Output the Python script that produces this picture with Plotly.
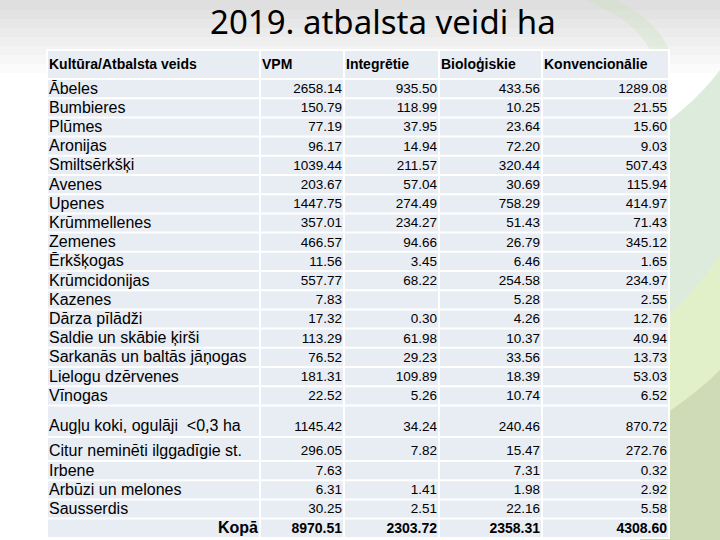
import plotly.graph_objects as go

W, H = 720, 540

title = "2019. atbalsta veidi ha"
header = ["Kultūra/Atbalsta veids", "VPM", "Integrētie", "Bioloģiskie", "Konvencionālie"]

crops = [
    "Ābeles", "Bumbieres", "Plūmes", "Aronijas", "Smiltsērkšķi", "Avenes", "Upenes",
    "Krūmmellenes", "Zemenes", "Ērkšķogas", "Krūmcidonijas", "Kazenes", "Dārza pīlādži",
    "Saldie un skābie ķirši", "Sarkanās un baltās jāņogas", "Lielogu dzērvenes", "Vīnogas",
    "Augļu koki, ogulāji  <0,3 ha",
    "Citur neminēti ilggadīgie st.", "Irbene", "Arbūzi un melones", "Sausserdis",
]
vpm = [2658.14, 150.79, 77.19, 96.17, 1039.44, 203.67, 1447.75, 357.01, 466.57, 11.56,
       557.77, 7.83, 17.32, 113.29, 76.52, 181.31, 22.52, 1145.42, 296.05, 7.63, 6.31, 30.25]
integretie = [935.50, 118.99, 37.95, 14.94, 211.57, 57.04, 274.49, 234.27, 94.66, 3.45,
              68.22, None, 0.30, 61.98, 29.23, 109.89, 5.26, 34.24, 7.82, None, 1.41, 2.51]
biologiskie = [433.56, 10.25, 23.64, 72.20, 320.44, 30.69, 758.29, 51.43, 26.79, 6.46,
               254.58, 5.28, 4.26, 10.37, 33.56, 18.39, 10.74, 240.46, 15.47, 7.31, 1.98, 22.16]
konvencionalie = [1289.08, 21.55, 15.60, 9.03, 507.43, 115.94, 414.97, 71.43, 345.12, 1.65,
                  234.97, 2.55, 12.76, 40.94, 13.73, 53.03, 6.52, 870.72, 272.76, 0.32, 2.92, 5.58]
total_label = "Kopā"
totals = [8970.51, 2303.72, 2358.31, 4308.60]

series = [vpm, integretie, biologiskie, konvencionalie]

# table geometry (pixels)
cell_bg = '#e8ecf3'
font_tbl = 'Liberation Sans, Arial'
edges = [47, 260, 344, 439, 542, 669]
head_top, head_h = 50, 29
row_h = [19.2] * 17 + [31.6, 24.0] + [19.2] * 3 + [19.5]   # last one = Kopā row


def fmt(v):
    return '' if v is None else f'{v:.2f}'


tops = []
t = head_top + head_h
for h in row_h:
    tops.append(t)
    t += h
# text sits a bit lower in the taller rows
text_y = [tp + h / 2 + 1 + 0.4 * (h - 19.2) for tp, h in zip(tops, row_h)]
head_y = head_top + head_h / 2 + 1

shapes = []
# background: grey band on top, green swoosh on the right
for k in range(8):
    shapes.append(dict(type='rect', xref='x', yref='y', x0=0, x1=W, y0=0, y1=10 + k * 9,
                       fillcolor='rgba(0,0,0,0.016)', line_width=0, layer='below'))
shapes.append(dict(type='path', xref='x', yref='y', layer='below', line_width=0,
                   fillcolor='rgba(200,225,190,0.35)',
                   path='M 585 0 Q 635 20 650 50 L 669 50 Q 655 18 615 0 Z'))
shapes.append(dict(type='path', xref='x', yref='y', layer='below', line_width=0,
                   fillcolor='#dcebdc', path='M 640 540 L 640 140 Q 690 110 720 70 L 720 540 Z'))
shapes.append(dict(type='path', xref='x', yref='y', layer='below', line_width=0,
                   fillcolor='#e2f0c9', path='M 640 540 L 640 340 Q 690 300 720 255 L 720 540 Z'))
shapes.append(dict(type='path', xref='x', yref='y', layer='below', line_width=0,
                   fillcolor='#cfdab7', path='M 640 540 L 640 430 Q 690 400 720 370 L 720 540 Z'))
shapes.append(dict(type='rect', xref='x', yref='y', x0=edges[0] - 1, x1=edges[-1] + 1,
                   y0=head_top - 1, y1=tops[-1] + row_h[-1] + 1, fillcolor='white',
                   line_width=0, layer='below'))
# cells
for top, h in [(head_top, head_h)] + list(zip(tops, row_h)):
    for c in range(5):
        shapes.append(dict(type='rect', xref='x', yref='y', x0=edges[c] + 1, x1=edges[c + 1] - 1,
                           y0=top + 1, y1=top + h - 1, fillcolor=cell_bg, line_width=0,
                           layer='below'))

fig = go.Figure()

def txt(x, y, text, pos, size, bold=False):
    fig.add_trace(go.Scatter(
        x=x, y=y, mode='text', text=[f'<b>{s}</b>' if bold else s for s in text],
        textposition=pos, textfont=dict(family=font_tbl, size=size, color='black'),
        hoverinfo='skip', showlegend=False, cliponaxis=False))

# header
txt([e + 2 for e in edges[:5]], [head_y] * 5, header, 'middle right', 14, bold=True)
# row labels
txt([edges[0] + 2] * len(crops), text_y[:len(crops)], crops, 'middle right', 16)
# numbers, right aligned in their own column
for j, s in enumerate(series):
    txt([edges[j + 2] - 2] * len(s), text_y[:len(s)], [fmt(v) for v in s], 'middle left', 13.5)
# totals row
txt([edges[1] - 2], [text_y[-1]], [total_label], 'middle left', 16, bold=True)
txt([edges[j + 2] - 2 for j in range(4)], [text_y[-1]] * 4, [fmt(v) for v in totals],
    'middle left', 14, bold=True)

fig.update_layout(
    width=W, height=H,
    margin=dict(l=0, r=0, t=0, b=0),
    paper_bgcolor='white',
    plot_bgcolor='rgba(0,0,0,0)',
    xaxis=dict(range=[0, W], visible=False, fixedrange=True),
    yaxis=dict(range=[H, 0], visible=False, fixedrange=True),
    shapes=shapes,
    annotations=[dict(text=title, x=383, y=21, xref='x', yref='y',
                      showarrow=False, xanchor='center', yanchor='middle',
                      font=dict(family='Noto Sans', size=33, color='black'))],
)

fig.write_html("out.html", config={'displayModeBar': False},
               post_script="document.body.style.margin='0';")
